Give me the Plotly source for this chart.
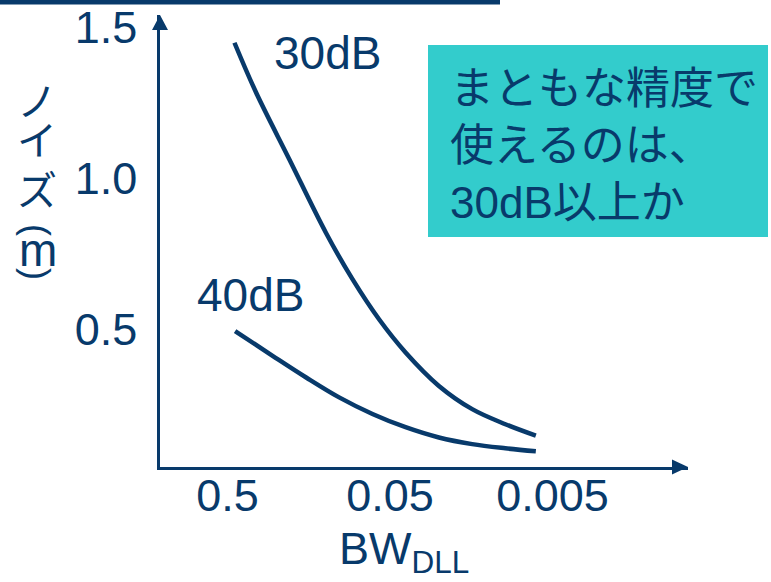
import plotly.graph_objects as go

# ---- data ----
bw_30db = [0.453, 0.333, 0.208, 0.124, 0.0851, 0.0584, 0.0401, 0.0250, 0.0156, 0.00975, 0.00633]
noise_30db = [1.450, 1.284, 1.063, 0.820, 0.666, 0.533, 0.423, 0.312, 0.235, 0.185, 0.147]
bw_40db = [0.449, 0.264, 0.164, 0.1028, 0.0641, 0.0401, 0.0250, 0.0156, 0.00975, 0.00633]
noise_40db = [0.494, 0.412, 0.340, 0.274, 0.219, 0.175, 0.141, 0.119, 0.105, 0.095]
x_tickvals = [0.5, 0.05, 0.005]
x_ticktext = ["0.5", "0.05", "0.005"]
y_tickvals = [0.5, 1.0, 1.5]
y_ticktext = ["0.5", "1.0", "1.5"]
series_names = ["30dB", "40dB"]
note_text = "まともな精度で<br>使えるのは、<br>30dB以上か"
x_title = "BW<sub>DLL</sub>"
y_title_chars = ["ノ", "イ", "ズ"]

NAVY = "#083a6b"
TEAL = "#33cccc"
FONT = "Liberation Sans, Arial, Noto Sans CJK JP, sans-serif"

W, H = 771, 582
L, R, T, B = 160, 83, 15, 115
PW, PH = W - L - R, H - T - B


def px(xp):
    return (xp - L) / PW


def py(yp):
    return (H - B - yp) / PH


def label(text, xc, yc, size, **kw):
    d = dict(text=text, x=px(xc), y=py(yc), xref="paper", yref="paper",
             xanchor="center", yanchor="middle", showarrow=False,
             font=dict(size=size, color=NAVY, family=FONT))
    d.update(kw)
    return d


fig = go.Figure()
fig.add_trace(go.Scatter(x=bw_30db, y=noise_30db, mode="lines", name=series_names[0],
                         line=dict(color=NAVY, width=4.5, shape="spline"), showlegend=False))
fig.add_trace(go.Scatter(x=bw_40db, y=noise_40db, mode="lines", name=series_names[1],
                         line=dict(color=NAVY, width=4.5, shape="spline"), showlegend=False))

annotations = [
    label(series_names[0], 327, 53, 46),
    label(series_names[1], 250, 295, 46),
    label(note_text, 448, 145, 44, xanchor="left", align="left"),
    label(x_title, 404, 551, 45),
]
# vertical y-axis title
char_pos = [102, 141, 191]
for ch, yc in zip(y_title_chars, char_pos):
    annotations.append(label(ch, 37, yc, 40))
annotations.append(label("(", 37, 230, 36, textangle=90))
annotations.append(label("m", 38, 250, 46))
annotations.append(label(")", 37, 274, 36, textangle=90))

shapes = [
    # note box
    dict(type="rect", xref="paper", yref="paper", x0=px(428), x1=px(768), y0=py(237), y1=py(45),
         fillcolor=TEAL, line=dict(width=0), layer="below"),
    # top rule
    dict(type="rect", xref="paper", yref="paper", x0=px(-2), x1=px(500), y0=py(4.5), y1=py(-2),
         fillcolor=NAVY, line=dict(width=0)),
    # y arrowhead
    dict(type="path", xref="paper", yref="paper",
         path=f"M {px(160)},{py(15)} L {px(152)},{py(30)} L {px(168)},{py(30)} Z",
         fillcolor=NAVY, line=dict(width=0)),
    # x arrowhead
    dict(type="path", xref="paper", yref="paper",
         path=f"M {px(688)},{py(467)} L {px(672)},{py(459.5)} L {px(672)},{py(474.5)} Z",
         fillcolor=NAVY, line=dict(width=0)),
]

fig.update_layout(
    width=W, height=H,
    margin=dict(l=L, r=R, t=T, b=B, pad=0, autoexpand=False),
    paper_bgcolor="white", plot_bgcolor="white",
    font=dict(family=FONT, color=NAVY),
    annotations=annotations, shapes=shapes,
    xaxis=dict(type="log", range=[0.1144, -3.135], tickvals=x_tickvals, ticktext=x_ticktext,
               showgrid=False, zeroline=False, showline=True, linecolor=NAVY, linewidth=2.5,
               ticks="", tickfont=dict(size=45, color=NAVY), ticklabelstandoff=-13, automargin=False),
    yaxis=dict(range=[0.0431, 1.542], tickvals=y_tickvals, ticktext=y_ticktext,
               showgrid=False, zeroline=False, showline=True, linecolor=NAVY, linewidth=2.5,
               ticks="", tickfont=dict(size=45, color=NAVY), ticklabelstandoff=11, automargin=False),
)

fig.write_html("out.html", config={"displayModeBar": False},
               post_script="document.body.style.margin='0';")
